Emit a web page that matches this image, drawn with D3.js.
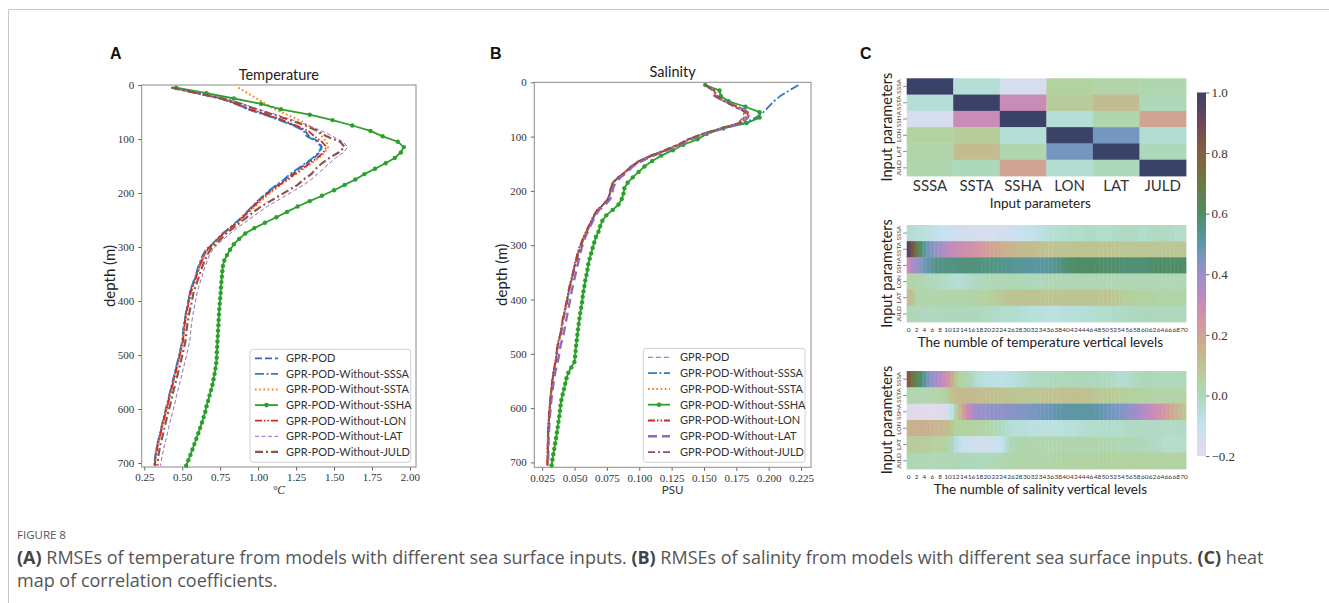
<!DOCTYPE html>
<html>
<head>
<meta charset="utf-8">
<script src="https://cdn.jsdelivr.net/npm/d3@7"></script>
<style>
body { margin: 0; background: #fff; }
.ax text { font-family: 'Liberation Serif', serif; font-size: 11px; fill: #333; }
.ax line { stroke: #666; }
</style>
</head>
<body>
<svg id="fig" width="1329" height="603"></svg>
<script>
// depth levels (m), one per vertical level
var depths = [5,15,25,35,45,55,65,75,85,95,
	105,115,125,135,145,155,165,175,185,195,
	205,215,225,235,245,255,265,275,285,295,
	305,315,325,335,345,355,365,375,385,395,
	405,415,425,435,445,455,465,475,485,495,
	505,515,525,535,545,555,565,575,585,595,
	605,615,625,635,645,655,665,675,685,695,
	705];

var seriesNames = ['GPR-POD', 'GPR-POD-Without-SSSA', 'GPR-POD-Without-SSTA', 'GPR-POD-Without-SSHA',
	'GPR-POD-Without-LON', 'GPR-POD-Without-LAT', 'GPR-POD-Without-JULD'];

// temperature RMSE (deg C)
var tempPOD = [0.44,0.60,0.76,0.86,0.94,1.05,1.15,1.24,1.31,1.335,
	1.40,1.42,1.405,1.37,1.32,1.27,1.225,1.18,1.13,1.08,
	1.04,1.00,0.965,0.93,0.895,0.86,0.815,0.77,0.735,0.70,
	0.66,0.64,0.625,0.612,0.600,0.588,0.575,0.562,0.550,0.545,
	0.538,0.530,0.524,0.518,0.512,0.509,0.507,0.503,0.495,0.487,
	0.478,0.468,0.460,0.452,0.443,0.434,0.425,0.416,0.408,0.399,
	0.390,0.381,0.372,0.364,0.356,0.347,0.338,0.331,0.325,0.320,
	0.318];
var tempSSSA = [0.43,0.59,0.75,0.85,0.93,1.04,1.14,1.23,1.30,1.32,
	1.39,1.415,1.40,1.36,1.31,1.26,1.21,1.17,1.12,1.075,
	1.035,0.995,0.96,0.925,0.89,0.85,0.81,0.765,0.73,0.695,
	0.655,0.635,0.62,0.607,0.596,0.585,0.572,0.56,0.548,0.543,
	0.536,0.528,0.522,0.516,0.51,0.506,0.503,0.499,0.491,0.483,
	0.475,0.466,0.457,0.449,0.44,0.431,0.422,0.413,0.405,0.396,
	0.387,0.378,0.369,0.361,0.352,0.344,0.336,0.329,0.323,0.318,
	0.316];
var tempSSTA = [0.87,0.93,0.99,1.05,1.11,1.19,1.27,1.33,1.39,1.42,
	1.45,1.46,1.44,1.40,1.35,1.30,1.25,1.20,1.15,1.10,
	1.06,1.02,0.98,0.94,0.90,0.86,0.82,0.775,0.74,0.705,
	0.67,0.65,0.632,0.618,0.606,0.594,0.581,0.568,0.556,0.55,
	0.542,0.534,0.528,0.522,0.516,0.512,0.509,0.505,0.497,0.489,
	0.481,0.472,0.463,0.455,0.446,0.437,0.428,0.419,0.411,0.402,
	0.393,0.384,0.375,0.367,0.359,0.35,0.341,0.334,0.328,0.323,
	0.321];
var tempSSHA = [0.46,0.66,0.84,1.02,1.15,1.34,1.49,1.62,1.74,1.82,
	1.92,1.96,1.94,1.90,1.84,1.77,1.70,1.64,1.57,1.50,
	1.42,1.34,1.26,1.19,1.12,1.045,0.975,0.915,0.875,0.84,
	0.815,0.795,0.777,0.768,0.764,0.761,0.758,0.755,0.753,0.750,
	0.747,0.744,0.742,0.740,0.738,0.736,0.734,0.732,0.730,0.728,
	0.727,0.724,0.719,0.713,0.706,0.699,0.690,0.680,0.670,0.660,
	0.652,0.641,0.630,0.618,0.606,0.593,0.580,0.567,0.554,0.540,
	0.526];
var tempLON = [0.43,0.59,0.75,0.86,0.95,1.06,1.16,1.25,1.33,1.37,
	1.42,1.45,1.43,1.39,1.34,1.29,1.24,1.19,1.14,1.09,
	1.045,1.005,0.97,0.935,0.9,0.86,0.815,0.77,0.735,0.70,
	0.665,0.645,0.63,0.616,0.604,0.592,0.58,0.567,0.555,0.549,
	0.541,0.533,0.527,0.521,0.515,0.511,0.508,0.504,0.496,0.488,
	0.48,0.471,0.462,0.454,0.445,0.436,0.427,0.418,0.41,0.401,
	0.392,0.383,0.374,0.366,0.358,0.349,0.34,0.333,0.327,0.322,
	0.32];
var tempLAT = [0.43,0.60,0.78,0.90,1.00,1.12,1.23,1.33,1.42,1.49,
	1.56,1.59,1.56,1.51,1.47,1.43,1.39,1.35,1.30,1.24,
	1.18,1.12,1.06,1.01,0.96,0.91,0.86,0.815,0.775,0.735,
	0.70,0.68,0.665,0.652,0.641,0.63,0.619,0.608,0.598,0.591,
	0.584,0.577,0.571,0.565,0.56,0.556,0.553,0.549,0.541,0.533,
	0.525,0.516,0.507,0.499,0.49,0.481,0.472,0.463,0.455,0.446,
	0.437,0.428,0.419,0.411,0.403,0.394,0.385,0.377,0.369,0.362,
	0.357];
var tempJULD = [0.43,0.60,0.77,0.89,0.99,1.10,1.21,1.31,1.39,1.45,
	1.54,1.57,1.53,1.47,1.42,1.38,1.35,1.30,1.26,1.20,
	1.14,1.08,1.02,0.97,0.925,0.88,0.835,0.79,0.755,0.72,
	0.685,0.665,0.648,0.634,0.622,0.61,0.598,0.586,0.574,0.567,
	0.56,0.552,0.545,0.539,0.533,0.528,0.525,0.521,0.513,0.505,
	0.497,0.488,0.479,0.471,0.462,0.453,0.444,0.435,0.427,0.418,
	0.409,0.4,0.391,0.383,0.375,0.366,0.357,0.35,0.344,0.339,
	0.336];

// salinity RMSE (PSU)
var salPOD = [0.151,0.158,0.158,0.165,0.173,0.181,0.180,0.176,0.162,0.148,
	0.137,0.129,0.119,0.108,0.099,0.093,0.089,0.083,0.079,0.0776,
	0.0770,0.0755,0.0720,0.0675,0.0650,0.0630,0.0610,0.0590,0.0570,0.0555,
	0.0540,0.0527,0.0515,0.0502,0.0494,0.0484,0.0473,0.0463,0.0454,0.0446,
	0.0438,0.0429,0.0420,0.0411,0.0404,0.0397,0.0390,0.0378,0.0367,0.0363,
	0.0358,0.0352,0.0344,0.0335,0.0330,0.0325,0.0320,0.0316,0.0312,0.0308,
	0.0305,0.0302,0.0299,0.0297,0.0295,0.0294,0.0293,0.0292,0.0291,0.0290,
	0.0290];
var salSSSA = [0.223,0.216,0.209,0.204,0.200,0.196,0.190,0.181,0.163,0.149,
	0.138,0.130,0.120,0.109,0.100,0.094,0.089,0.084,0.0795,0.0778,
	0.0772,0.0757,0.0722,0.0678,0.0652,0.0632,0.0612,0.0592,0.0572,0.0557,
	0.0542,0.0529,0.0517,0.0504,0.0496,0.0486,0.0475,0.0465,0.0456,0.0448,
	0.0440,0.0431,0.0422,0.0413,0.0406,0.0399,0.0392,0.0380,0.0369,0.0365,
	0.0360,0.0354,0.0346,0.0337,0.0332,0.0327,0.0322,0.0318,0.0314,0.0310,
	0.0307,0.0304,0.0301,0.0299,0.0297,0.0296,0.0295,0.0294,0.0293,0.0292,
	0.0292];
var salSSTA = [0.151,0.157,0.159,0.166,0.175,0.183,0.182,0.177,0.163,0.149,
	0.138,0.130,0.120,0.109,0.100,0.0935,0.0895,0.0835,0.0795,0.0780,
	0.0773,0.0757,0.0722,0.0677,0.0652,0.0632,0.0612,0.0592,0.0572,0.0557,
	0.0542,0.0528,0.0516,0.0503,0.0495,0.0485,0.0474,0.0464,0.0455,0.0447,
	0.0439,0.0430,0.0421,0.0412,0.0405,0.0398,0.0391,0.0379,0.0368,0.0364,
	0.0359,0.0353,0.0345,0.0336,0.0331,0.0326,0.0321,0.0317,0.0313,0.0309,
	0.0306,0.0303,0.0300,0.0298,0.0296,0.0295,0.0294,0.0293,0.0292,0.0291,
	0.0291];
var salSSHA = [0.151,0.162,0.163,0.169,0.182,0.193,0.193,0.183,0.165,0.152,
	0.145,0.134,0.126,0.117,0.110,0.104,0.0995,0.095,0.091,0.0885,
	0.0878,0.0865,0.0840,0.0795,0.0745,0.0715,0.0698,0.0685,0.0665,0.0652,
	0.0640,0.0628,0.0617,0.0606,0.0600,0.0592,0.0583,0.0576,0.0569,0.0563,
	0.0558,0.0551,0.0544,0.0538,0.0532,0.0527,0.0522,0.0517,0.0512,0.0508,
	0.0504,0.0499,0.0475,0.0452,0.0438,0.0428,0.0418,0.0408,0.0398,0.0392,
	0.0387,0.0382,0.0376,0.0370,0.0364,0.0357,0.0350,0.0343,0.0336,0.0329,
	0.0323];
var salLON = [0.151,0.158,0.160,0.167,0.176,0.184,0.183,0.178,0.164,0.150,
	0.139,0.131,0.121,0.110,0.101,0.094,0.0895,0.084,0.080,0.0782,
	0.0775,0.0758,0.0723,0.0676,0.0648,0.0628,0.0608,0.0588,0.0568,0.0552,
	0.0535,0.0522,0.0512,0.0500,0.0492,0.0482,0.0471,0.0461,0.0452,0.0444,
	0.0436,0.0427,0.0418,0.0409,0.0402,0.0395,0.0388,0.0376,0.0366,0.0362,
	0.0357,0.0351,0.0343,0.0334,0.0329,0.0324,0.0319,0.0315,0.0311,0.0307,
	0.0304,0.0301,0.0298,0.0296,0.0294,0.0293,0.0292,0.0291,0.0290,0.0289,
	0.0289];
var salLAT = [0.151,0.157,0.158,0.166,0.176,0.185,0.184,0.179,0.165,0.151,
	0.140,0.132,0.122,0.111,0.102,0.095,0.091,0.0855,0.0815,0.0798,
	0.0790,0.0775,0.0740,0.0690,0.0662,0.0642,0.0622,0.0602,0.0583,0.0568,
	0.0555,0.0545,0.0535,0.0525,0.0516,0.0506,0.0496,0.0487,0.0478,0.0470,
	0.0462,0.0454,0.0446,0.0438,0.0430,0.0422,0.0414,0.0403,0.0392,0.0385,
	0.0378,0.0370,0.0360,0.0350,0.0343,0.0337,0.0331,0.0326,0.0321,0.0317,
	0.0313,0.0310,0.0307,0.0304,0.0302,0.0300,0.0299,0.0298,0.0297,0.0296,
	0.0296];
var salJULD = [0.151,0.158,0.159,0.166,0.174,0.182,0.181,0.177,0.163,0.149,
	0.138,0.130,0.120,0.109,0.100,0.0935,0.0895,0.0838,0.0798,0.0781,
	0.0774,0.0758,0.0724,0.0680,0.0655,0.0635,0.0615,0.0595,0.0575,0.0560,
	0.0545,0.0532,0.0520,0.0507,0.0498,0.0488,0.0477,0.0467,0.0458,0.0450,
	0.0442,0.0433,0.0424,0.0415,0.0408,0.0401,0.0394,0.0382,0.0371,0.0366,
	0.0361,0.0355,0.0347,0.0338,0.0333,0.0328,0.0323,0.0319,0.0315,0.0311,
	0.0308,0.0305,0.0302,0.0300,0.0298,0.0297,0.0296,0.0295,0.0294,0.0293,
	0.0293];

var depthTicks = [0,100,200,300,400,500,600,700];
var tempTicks = [0.25,0.50,0.75,1.00,1.25,1.50,1.75,2.00];
var salTicks = [0.025,0.050,0.075,0.100,0.125,0.150,0.175,0.200,0.225];

// correlation heat maps
var params = ['SSSA','SSTA','SSHA','LON','LAT','JULD'];
var paramCorr = [
	[1.00,-0.05,-0.15,0.05,0.03,0.02],
	[-0.05,1.00,0.30,0.07,0.12,0.00],
	[-0.15,0.30,1.00,-0.05,0.02,0.20],
	[0.05,0.07,-0.05,1.00,0.46,-0.04],
	[0.03,0.12,0.02,0.46,1.00,0.00],
	[0.02,0.00,0.20,-0.04,0.00,1.00]
];
var tempLevelCorr = [
	[-0.04,-0.05,-0.05,-0.06,-0.06,-0.07,-0.08,-0.09,-0.10,-0.11,
	-0.12,-0.12,-0.13,-0.13,-0.14,-0.14,-0.14,-0.15,-0.15,-0.15,
	-0.15,-0.15,-0.15,-0.14,-0.14,-0.13,-0.13,-0.12,-0.12,-0.11,
	-0.10,-0.10,-0.09,-0.08,-0.07,-0.06,-0.05,-0.05,-0.04,-0.04,
	-0.04,-0.03,-0.03,-0.03,-0.03,-0.02,-0.02,-0.02,-0.03,-0.03,
	-0.03,-0.03,-0.02,-0.02,-0.02,-0.01,-0.01,-0.02,-0.02,-0.03,
	-0.03,-0.02,-0.02,-0.01,-0.01,-0.01,-0.02,-0.02,-0.03,-0.03,
	-0.03],
	[0.95,0.85,0.70,0.60,0.52,0.47,0.44,0.41,0.39,0.36,
	0.33,0.31,0.30,0.29,0.28,0.27,0.26,0.25,0.24,0.23,
	0.21,0.20,0.19,0.18,0.16,0.15,0.14,0.14,0.13,0.13,
	0.12,0.12,0.12,0.11,0.11,0.11,0.10,0.10,0.10,0.10,
	0.10,0.10,0.10,0.10,0.10,0.10,0.10,0.10,0.10,0.10,
	0.10,0.10,0.10,0.10,0.09,0.09,0.09,0.09,0.09,0.09,
	0.09,0.09,0.09,0.09,0.09,0.09,0.09,0.09,0.09,0.09,
	0.09],
	[0.30,0.36,0.40,0.43,0.47,0.50,0.53,0.55,0.56,0.56,
	0.56,0.56,0.56,0.57,0.57,0.57,0.57,0.57,0.57,0.56,
	0.56,0.56,0.55,0.55,0.54,0.54,0.54,0.53,0.53,0.53,
	0.52,0.52,0.52,0.52,0.52,0.52,0.53,0.54,0.55,0.57,
	0.58,0.59,0.59,0.60,0.60,0.60,0.60,0.60,0.60,0.59,
	0.59,0.59,0.59,0.59,0.59,0.58,0.58,0.58,0.58,0.58,
	0.58,0.59,0.59,0.60,0.60,0.60,0.60,0.60,0.60,0.60,
	0.60],
	[0.03,0.03,0.02,0.02,0.01,0.01,0.00,0.00,-0.01,-0.02,
	-0.03,-0.04,-0.05,-0.05,-0.04,-0.03,-0.02,-0.01,0.00,0.00,
	0.01,0.01,0.01,0.01,0.01,0.01,0.01,0.01,0.01,0.00,
	0.00,0.00,0.00,0.00,0.00,0.01,0.01,0.01,0.01,0.01,
	0.01,0.01,0.01,0.01,0.01,0.01,0.01,0.01,0.01,0.01,
	0.01,0.01,0.01,0.01,0.01,0.01,0.01,0.01,0.01,0.01,
	0.01,0.01,0.01,0.01,0.01,0.01,0.01,0.01,0.01,0.01,
	0.01],
	[0.12,0.10,0.04,0.03,0.03,0.03,0.03,0.03,0.03,0.03,
	0.03,0.03,0.03,0.03,0.03,0.03,0.04,0.04,0.04,0.05,
	0.05,0.06,0.07,0.08,0.09,0.10,0.10,0.10,0.10,0.10,
	0.10,0.10,0.10,0.10,0.10,0.10,0.10,0.10,0.10,0.10,
	0.10,0.10,0.10,0.10,0.10,0.10,0.10,0.10,0.10,0.10,
	0.10,0.10,0.09,0.08,0.07,0.06,0.06,0.05,0.05,0.05,
	0.05,0.05,0.05,0.04,0.04,0.04,0.04,0.04,0.04,0.04,
	0.04],
	[0.01,0.01,0.00,0.00,0.00,0.00,0.00,0.00,0.00,0.00,
	0.00,0.00,0.00,0.00,0.00,0.00,0.00,0.00,0.00,-0.01,
	-0.01,-0.02,-0.02,-0.02,-0.03,-0.03,-0.03,-0.04,-0.04,-0.05,
	-0.05,-0.06,-0.06,-0.06,-0.06,-0.07,-0.07,-0.07,-0.07,-0.06,
	-0.06,-0.06,-0.06,-0.06,-0.05,-0.05,-0.05,-0.04,-0.04,-0.03,
	-0.03,-0.03,-0.02,-0.02,-0.02,-0.02,-0.01,-0.01,-0.01,-0.01,
	0.00,0.00,0.00,0.00,0.00,0.00,0.00,0.00,0.00,0.00,
	0.00]
];
var salLevelCorr = [
	[0.82,0.72,0.64,0.60,0.53,0.46,0.41,0.38,0.35,0.31,
	0.26,0.18,0.10,0.05,0.03,0.02,0.00,-0.03,-0.05,-0.06,
	-0.07,-0.07,-0.08,-0.08,-0.08,-0.07,-0.07,-0.06,-0.05,-0.04,
	-0.03,-0.02,-0.02,-0.01,-0.01,-0.01,0.00,0.00,0.00,0.00,
	0.00,0.00,0.00,0.00,0.00,0.00,0.00,0.00,0.00,-0.01,
	-0.01,-0.01,-0.02,-0.03,-0.04,-0.04,-0.03,-0.02,-0.01,0.00,
	0.00,0.00,0.00,0.00,0.00,0.00,0.00,0.00,0.00,0.00,
	0.00],
	[0.02,0.02,0.02,0.02,0.02,0.02,0.03,0.03,0.04,0.05,
	0.07,0.10,0.12,0.13,0.13,0.13,0.13,0.12,0.12,0.12,
	0.12,0.11,0.11,0.10,0.10,0.10,0.09,0.09,0.09,0.09,
	0.09,0.09,0.09,0.09,0.10,0.10,0.10,0.10,0.10,0.11,
	0.11,0.11,0.11,0.11,0.11,0.10,0.10,0.09,0.09,0.08,
	0.08,0.08,0.07,0.07,0.06,0.06,0.05,0.05,0.05,0.04,
	0.04,0.04,0.04,0.04,0.04,0.04,0.04,0.04,0.04,0.04,
	0.04],
	[-0.16,-0.17,-0.18,-0.18,-0.19,-0.19,-0.19,-0.18,-0.18,-0.17,
	-0.13,-0.08,0.04,0.12,0.22,0.30,0.34,0.38,0.40,0.41,
	0.41,0.42,0.42,0.42,0.42,0.43,0.43,0.43,0.44,0.44,
	0.44,0.45,0.45,0.46,0.47,0.47,0.48,0.49,0.50,0.50,
	0.51,0.51,0.51,0.51,0.51,0.51,0.51,0.51,0.50,0.49,
	0.48,0.47,0.46,0.45,0.44,0.43,0.41,0.40,0.38,0.36,
	0.34,0.32,0.30,0.28,0.26,0.24,0.21,0.18,0.15,0.12,
	0.10],
	[0.15,0.16,0.16,0.16,0.16,0.15,0.15,0.14,0.14,0.13,
	0.12,0.09,0.06,0.05,0.05,0.05,0.05,0.04,0.04,0.04,
	0.03,0.02,0.01,0.00,-0.02,-0.04,-0.05,-0.06,-0.06,-0.06,
	-0.06,-0.07,-0.07,-0.07,-0.07,-0.07,-0.07,-0.07,-0.07,-0.07,
	-0.06,-0.06,-0.06,-0.05,-0.05,-0.04,-0.04,-0.03,-0.03,-0.03,
	-0.03,-0.03,-0.03,-0.03,-0.03,-0.02,-0.02,-0.02,-0.02,-0.02,
	-0.02,-0.02,-0.02,-0.02,-0.02,-0.02,-0.02,-0.02,-0.02,-0.02,
	-0.02],
	[0.07,0.07,0.07,0.07,0.07,0.07,0.06,0.06,0.06,0.06,
	0.04,0.00,-0.06,-0.09,-0.11,-0.12,-0.13,-0.13,-0.14,-0.14,
	-0.14,-0.13,-0.12,-0.11,-0.09,-0.03,0.01,0.02,0.02,0.02,
	0.02,0.02,0.02,0.02,0.02,0.02,0.02,0.02,0.02,0.02,
	0.02,0.02,0.02,0.02,0.02,0.02,0.02,0.02,0.02,0.02,
	0.02,0.02,0.02,0.01,0.01,0.01,0.01,0.01,0.00,0.00,
	0.00,-0.01,-0.01,-0.02,-0.02,-0.03,-0.03,-0.03,-0.03,-0.03,
	-0.03],
	[0.01,0.01,0.01,0.01,0.01,0.01,0.01,0.01,0.01,0.01,
	0.01,0.01,0.01,0.01,0.00,0.00,0.00,0.00,0.00,0.00,
	0.00,0.01,0.01,0.01,0.02,0.02,0.02,0.03,0.03,0.03,
	0.03,0.03,0.03,0.03,0.03,0.03,0.03,0.04,0.04,0.04,
	0.04,0.04,0.04,0.04,0.04,0.04,0.04,0.04,0.04,0.05,
	0.05,0.05,0.05,0.05,0.05,0.05,0.05,0.05,0.05,0.05,
	0.05,0.05,0.05,0.05,0.05,0.05,0.05,0.05,0.05,0.05,
	0.05]
];
var levelTicks = [0,2,4,6,8,10,12,14,16,18,20,22,24,26,28,30,32,34,36,38,40,42,44,46,48,50,52,54,56,58,60,62,64,66,68,70];
var cbarTicks = [-0.2,0.0,0.2,0.4,0.6,0.8,1.0];

// colour map
var cmapStops = [-0.2,-0.1,-0.05,0.0,0.05,0.1,0.15,0.2,0.25,0.3,0.35,0.4,0.45,0.5,0.55,0.6,0.7,0.8,0.9,1.0];
var cmapColors = ['#e6d8ec','#c4e2ee','#b4ded6','#aed8bb','#b2d2a0','#bec392','#c9b28d','#d0a393','#d294a6','#c98cb6',
	'#b28bc6','#9b8fca','#7a97c4','#5f96ac','#539489','#4f8d66','#6b7a42','#83603f','#6f4659','#3a4268'];

var svg = d3.select('#fig');
var color = d3.scaleLinear().domain(cmapStops).range(cmapColors).interpolate(d3.interpolateLab).clamp(true);

// figure frame
svg.append('line').attr('x1', 8.5).attr('y1', 9.5).attr('x2', 1329).attr('y2', 9.5).attr('stroke', '#c8c8c8');
svg.append('line').attr('x1', 8.5).attr('y1', 9.5).attr('x2', 8.5).attr('y2', 603).attr('stroke', '#c8c8c8');

function panelLetter(t, x, y) {
	svg.append('text').attr('x', x).attr('y', y).text(t)
		.style('font-family', 'Liberation Sans, Arial, sans-serif').style('font-weight', 'bold').style('font-size', '16px').style('fill', '#111');
}

function drawProfile(p) {
	var x = d3.scaleLinear().domain(p.xDomain).range([p.left, p.right]),
		y = d3.scaleLinear().domain([0, p.yMax]).range([p.top, p.bottom]);
	var g = svg.append('g');

	g.append('g').attr('class', 'ax').attr('transform', 'translate(0,' + p.bottom + ')')
		.call(d3.axisBottom(x).tickValues(p.xTicks).tickFormat(d3.format(p.fmt)).tickSize(3.5).tickSizeOuter(0).tickPadding(3));
	g.append('g').attr('class', 'ax').attr('transform', 'translate(' + p.left + ',0)')
		.call(d3.axisLeft(y).tickValues(depthTicks).tickSize(3.5).tickSizeOuter(0).tickPadding(4));
	g.selectAll('.ax .domain').remove();
	g.append('rect').attr('x', p.left).attr('y', p.top).attr('width', p.right - p.left).attr('height', p.bottom - p.top)
		.attr('fill', 'none').attr('stroke', '#8a8a8a');

	var line = d3.line().x(function(d) { return x(d[0]) }).y(function(d) { return y(d[1]) });
	p.series.forEach(function(s, i) {
		var st = p.styles[i];
		var pts = s.map(function(v, j) { return [v, depths[j]] });
		g.append('path').datum(pts).attr('d', line).attr('fill', 'none')
			.attr('stroke', st.color).attr('stroke-width', st.w).attr('stroke-dasharray', st.dash);
		if (st.marker) {
			g.selectAll(null).data(pts).enter().append('circle')
				.attr('cx', function(d) { return x(d[0]) }).attr('cy', function(d) { return y(d[1]) })
				.attr('r', 2.2).attr('fill', st.color);
		}
	});

	// title and labels
	g.append('text').attr('x', (p.left + p.right) / 2).attr('y', p.top - 5).attr('text-anchor', 'middle').text(p.title)
		.style('font-family', 'Lato, sans-serif').style('font-size', '14.5px').style('fill', '#222');
	g.append('text').attr('transform', 'translate(' + p.yLabelX + ',' + (p.top + p.bottom) / 2 + ') rotate(-90)')
		.attr('text-anchor', 'middle').text('depth (m)')
		.style('font-family', 'Lato, sans-serif').style('font-size', '15px').style('fill', '#222');
	var xl = g.append('text').attr('x', (p.left + p.right) / 2).attr('y', 494).attr('text-anchor', 'middle').text(p.xLabel)
		.style('font-size', '11.5px').style('fill', '#333');
	if (p.xLabelItalic) xl.style('font-family', 'Liberation Serif, serif').style('font-style', 'italic');
	else xl.style('font-family', 'Lato, sans-serif');

	// legend
	var L = p.legend;
	g.append('rect').attr('x', L.x0).attr('y', L.y0).attr('width', L.x1 - L.x0).attr('height', L.y1 - L.y0)
		.attr('rx', 3).attr('fill', '#fff').attr('fill-opacity', 0.85).attr('stroke', '#d0d0d0');
	seriesNames.forEach(function(name, i) {
		var st = p.styles[i], yy = L.row0 + i * L.dy;
		g.append('line').attr('x1', L.hx0).attr('x2', L.hx1).attr('y1', yy).attr('y2', yy)
			.attr('stroke', st.color).attr('stroke-width', st.w).attr('stroke-dasharray', st.dash);
		if (st.marker) g.append('circle').attr('cx', (L.hx0 + L.hx1) / 2).attr('cy', yy).attr('r', 2.3).attr('fill', st.color);
		g.append('text').attr('x', L.tx).attr('y', yy).attr('dy', '0.35em').text(name)
			.style('font-family', 'Lato, sans-serif').style('font-size', '11px').style('fill', '#333');
	});
}

var stylesA = [
	{color: '#4a5fae', dash: '7,3', w: 1.8},
	{color: '#2f7dc0', dash: '9,2.5,2,2.5', w: 1.8},
	{color: '#ff7f0e', dash: '1.6,2.6', w: 2},
	{color: '#2ca02c', dash: null, w: 1.8, marker: true},
	{color: '#d62728', dash: '7,2,1.5,2,1.5,2', w: 1.8},
	{color: '#9467bd', dash: '4,2.5', w: 1},
	{color: '#8c564b', dash: '8,3,2,3', w: 2.2}
];
var stylesB = [
	{color: '#5a78c8', dash: '5,3', w: 1.1},
	{color: '#2f7dc0', dash: '9,2.5,2,2.5', w: 1.8},
	{color: '#ff7f0e', dash: '1.6,2.6', w: 2},
	{color: '#2ca02c', dash: null, w: 1.8, marker: true},
	{color: '#d62728', dash: '7,2,1.5,2,1.5,2', w: 1.8},
	{color: '#9467bd', dash: '9,5', w: 2.4},
	{color: '#8c564b', dash: '7,3,2,3', w: 1.8}
];

drawProfile({
	left: 141.7, right: 416, top: 85, bottom: 467, yMax: 707.4,
	xDomain: [0.233, 2.04], xTicks: tempTicks, fmt: '.2f',
	series: [tempPOD, tempSSSA, tempSSTA, tempSSHA, tempLON, tempLAT, tempJULD], styles: stylesA,
	title: 'Temperature', xLabel: '°C', xLabelItalic: true, yLabelX: 115,
	legend: {x0: 250, y0: 349.3, x1: 410.7, y1: 462.3, row0: 358.3, dy: 15.6, hx0: 255, hx1: 278, tx: 286}
});
drawProfile({
	left: 534.3, right: 811, top: 82.3, bottom: 467.3, yMax: 709,
	xDomain: [0.0189, 0.2327], xTicks: salTicks, fmt: '.3f',
	series: [salPOD, salSSSA, salSSTA, salSSHA, salLON, salLAT, salJULD], styles: stylesB,
	title: 'Salinity', xLabel: 'PSU', xLabelItalic: false, yLabelX: 507,
	legend: {x0: 643.3, y0: 348.3, x1: 805, y1: 462.3, row0: 357.3, dy: 15.8, hx0: 648, hx1: 670, tx: 680}
});

panelLetter('A', 110, 58.5);
panelLetter('B', 490, 58.5);
panelLetter('C', 860, 58.5);

// heat maps
var hmLeft = 906.7, hmRight = 1186;
function drawHeat(h) {
	var x = d3.scaleBand().domain(h.cols).range([hmLeft, hmRight]),
		y = d3.scaleBand().domain(params).range([h.top, h.bottom]);
	var cells = [];
	h.data.forEach(function(row, r) {
		row.forEach(function(v, c) { cells.push({p: params[r], c: h.cols[c], v: v}) });
	});
	var g = svg.append('g');
	g.selectAll('rect').data(cells).enter().append('rect')
		.attr('x', function(d) { return x(d.c) }).attr('y', function(d) { return y(d.p) })
		.attr('width', x.bandwidth() + 0.4).attr('height', y.bandwidth() + 0.4)
		.attr('fill', function(d) { return color(d.v) });

	// row labels
	params.forEach(function(p) {
		var cy = y(p) + y.bandwidth() / 2;
		g.append('line').attr('x1', hmLeft - 3.5).attr('x2', hmLeft).attr('y1', cy).attr('y2', cy).attr('stroke', '#666').attr('stroke-width', 0.8);
		g.append('text').attr('transform', 'translate(' + (hmLeft - 5.5) + ',' + cy + ') rotate(-90)')
			.attr('text-anchor', 'middle').text(p)
			.style('font-family', 'Lato, sans-serif').style('font-size', '6.5px').style('fill', '#444');
	});
	g.append('text').attr('transform', 'translate(' + 892 + ',' + (h.top + h.bottom) / 2 + ') rotate(-90)')
		.attr('text-anchor', 'middle').text('Input parameters')
		.style('font-family', 'Lato, sans-serif').style('font-size', '14.5px').style('fill', '#222');

	// column labels
	h.ticks.forEach(function(t) {
		g.append('text').attr('x', x(t) + x.bandwidth() / 2).attr('y', h.tickY).attr('text-anchor', 'middle').text(t)
			.style('font-family', 'Lato, sans-serif').style('font-size', h.tickSize + 'px').style('fill', '#333');
	});
	g.append('text').attr('x', (hmLeft + hmRight) / 2 - 6).attr('y', h.labelY).attr('text-anchor', 'middle').text(h.label)
		.style('font-family', 'Lato, sans-serif').style('font-size', '13.5px').style('fill', '#222');
}

drawHeat({cols: params, data: paramCorr, top: 78.3, bottom: 176, ticks: params, tickY: 191, tickSize: 15,
	label: 'Input parameters', labelY: 207.5});
drawHeat({cols: d3.range(71), data: tempLevelCorr, top: 225, bottom: 322, ticks: levelTicks, tickY: 331.5, tickSize: 6.5,
	label: 'The numble of temperature vertical levels', labelY: 347});
drawHeat({cols: d3.range(71), data: salLevelCorr, top: 371, bottom: 469, ticks: levelTicks, tickY: 478.5, tickSize: 6.5,
	label: 'The numble of salinity vertical levels', labelY: 494});

// colour bar
var cb = d3.scaleLinear().domain([-0.2, 1.0]).range([456, 92.5]);
var grad = svg.append('defs').append('linearGradient').attr('id', 'cbar')
	.attr('x1', 0).attr('y1', 1).attr('x2', 0).attr('y2', 0);
cmapStops.forEach(function(s, i) {
	grad.append('stop').attr('offset', (s + 0.2) / 1.2).attr('stop-color', cmapColors[i]);
});
svg.append('rect').attr('x', 1197).attr('y', 92.5).attr('width', 9).attr('height', 456 - 92.5).attr('fill', 'url(#cbar)');
var cbAxis = svg.append('g').attr('class', 'ax').attr('transform', 'translate(1206,0)')
	.call(d3.axisRight(cb).tickValues(cbarTicks).tickFormat(d3.format('.1f')).tickSize(3.5).tickSizeOuter(0).tickPadding(2));
cbAxis.select('.domain').remove();
cbAxis.selectAll('text').style('font-size', '13px');

// caption
var capStyle = function(t) {
	return t.style('font-family', 'Open Sans, sans-serif').style('fill', '#555');
};
capStyle(svg.append('text').attr('x', 17).attr('y', 539).text('FIGURE 8').style('font-size', '11.5px'));
var line1 = capStyle(svg.append('text').attr('x', 17).attr('y', 564).style('font-size', '18px'));
line1.append('tspan').style('font-weight', 'bold').style('fill', '#444').text('(A)');
line1.append('tspan').text(' RMSEs of temperature from models with different sea surface inputs. ');
line1.append('tspan').style('font-weight', 'bold').style('fill', '#444').text('(B)');
line1.append('tspan').text(' RMSEs of salinity from models with different sea surface inputs. ');
line1.append('tspan').style('font-weight', 'bold').style('fill', '#444').text('(C)');
line1.append('tspan').text(' heat');
capStyle(svg.append('text').attr('x', 17).attr('y', 587).style('font-size', '18px').text('map of correlation coefficients.'));
</script>
</body>
</html>
